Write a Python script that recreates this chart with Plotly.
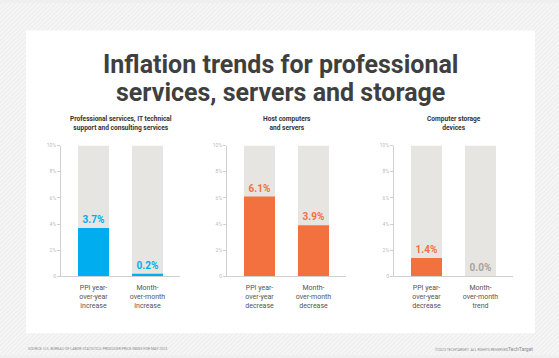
import plotly.graph_objects as go

# ---------------- data ----------------
panel_titles = [
    "Professional services, IT technical<br>support and consulting services",
    "Host computers<br>and servers",
    "Computer storage<br>devices",
]
panel_categories = [
    ["PPI year-<br>over-year<br>increase", "Month-<br>over-month<br>increase"],
    ["PPI year-<br>over-year<br>decrease", "Month-<br>over-month<br>decrease"],
    ["PPI year-<br>over-year<br>decrease", "Month-<br>over-month<br>trend"],
]
panel_values = [
    [3.7, 0.2],
    [6.1, 3.9],
    [1.4, 0.0],
]
scale_max = 10
y_tickvals = [0, 2, 4, 6, 8, 10]
y_ticktext = ["0", "2%", "4%", "6%", "8%", "10%"]
title_lines = ["Inflation trends for professional", "services, servers and storage"]
source_text = "SOURCE: U.S. BUREAU OF LABOR STATISTICS PRODUCER PRICE INDEX FOR MAY 2023"
copyright_text = "©2023 TECHTARGET. ALL RIGHTS RESERVED"

# ---------------- style ----------------
W, H = 559, 358
BLUE = "#00aeef"
ORANGE = "#f3703f"
TRACK = "#e7e5e2"
ZERO_LABEL = "#a8a39d"
bar_colors = [[BLUE, BLUE], [ORANGE, ORANGE], [ORANGE, ORANGE]]
label_colors = [[BLUE, BLUE], [ORANGE, ORANGE], [ORANGE, ZERO_LABEL]]
FONT = "Roboto"


def px(x):
    return x / W


def py(y):
    return 1 - y / H


# x-domains in pixels for each panel
domains_px = [(61.1, 179.9), (227.1, 345.9), (394.1, 512.9)]
y_dom = (py(278), py(145))

fig = go.Figure()
for i in range(3):
    xa = "x" if i == 0 else f"x{i+1}"
    ya = "y" if i == 0 else f"y{i+1}"
    xs = [0, 1]
    fig.add_trace(go.Bar(
        x=xs, y=[scale_max, scale_max], xaxis=xa, yaxis=ya,
        marker=dict(color=TRACK, line=dict(width=0)), width=0.574,
        hoverinfo="skip", showlegend=False,
    ))
    vals = panel_values[i]
    fig.add_trace(go.Bar(
        x=xs, y=vals, xaxis=xa, yaxis=ya,
        marker=dict(color=bar_colors[i], line=dict(width=0)), width=0.574,
        text=[f"{v:.1f}%" for v in vals], textposition="outside",
        textfont=dict(family=FONT, size=10, color=label_colors[i], weight="bold"),
        cliponaxis=False, showlegend=False,
    ))

layout = dict(
    width=W, height=H, margin=dict(l=0, r=0, t=0, b=0),
    paper_bgcolor="#efefef", plot_bgcolor="rgba(0,0,0,0)",
    barmode="overlay", font=dict(family=FONT),
)
for i in range(3):
    xk = "xaxis" if i == 0 else f"xaxis{i+1}"
    yk = "yaxis" if i == 0 else f"yaxis{i+1}"
    d0, d1 = domains_px[i]
    layout[xk] = dict(
        domain=[px(d0), px(d1)], range=[-0.6, 1.6],
        tickvals=[0, 1], ticktext=panel_categories[i],
        tickfont=dict(family=FONT, size=7, color="#555555"),
        ticklabelstandoff=4,
        showline=True, linecolor="#d0d0d0", linewidth=1,
        showgrid=False, zeroline=False, ticks="", fixedrange=True,
        anchor="y" if i == 0 else f"y{i+1}",
    )
    layout[yk] = dict(
        domain=list(y_dom), range=[0, scale_max],
        tickvals=y_tickvals, ticktext=y_ticktext,
        tickfont=dict(family=FONT, size=5, color="#bbbbbb"),
        showline=True, linecolor="#d0d0d0", linewidth=1,
        ticks="outside", ticklen=3, tickcolor="#d0d0d0",
        showgrid=False, zeroline=False, fixedrange=True,
        anchor="x" if i == 0 else f"x{i+1}",
    )
fig.update_layout(**layout)

# background hatch
segs = []
c = 0
while c < W + H:
    segs.append(f"M{px(c - H):.4f},{py(H):.4f} L{px(c):.4f},{py(0):.4f}")
    c += 4.5
shapes = [
    dict(type="path", path=" ".join(segs), xref="paper", yref="paper",
         line=dict(color="#f7f7f7", width=1.3), layer="below"),
    dict(type="rect", xref="paper", yref="paper", x0=px(26), x1=px(535),
         y0=py(336), y1=py(28), fillcolor="white", line=dict(width=0), layer="below"),
]
fig.update_layout(shapes=shapes)

ann = []
for k, (line, ypx) in enumerate(zip(title_lines, [63, 91])):
    ann.append(dict(text=f"<b>{line}</b>", x=px(280.5), y=py(ypx), xref="paper", yref="paper",
                    showarrow=False, xanchor="center", yanchor="middle",
                    font=dict(family=FONT, size=25, color="#3f3f3f")))
for i in range(3):
    d0, d1 = domains_px[i]
    ann.append(dict(text=f"<b>{panel_titles[i]}</b>", x=px((d0 + d1) / 2), y=py(122.5),
                    xref="paper", yref="paper", showarrow=False,
                    xanchor="center", yanchor="middle",
                    font=dict(family=FONT, size=6.6, color="#333333")))
ann.append(dict(text=source_text, x=px(26), y=py(352), xref="paper", yref="paper",
                showarrow=False, xanchor="left", yanchor="middle",
                font=dict(family=FONT, size=3.6, color="#8a8a8a")))
ann.append(dict(text=copyright_text, x=px(511), y=py(352), xref="paper", yref="paper",
                showarrow=False, xanchor="right", yanchor="middle",
                font=dict(family=FONT, size=3.6, color="#8a8a8a")))
ann.append(dict(text="TechTarget", x=px(535), y=py(352), xref="paper", yref="paper",
                showarrow=False, xanchor="right", yanchor="middle",
                font=dict(family=FONT, size=5, color="#8a8a8a")))
fig.update_layout(annotations=ann)

fig.write_html("out.html", config={"displayModeBar": False},
               post_script="document.body.style.margin='0';document.body.style.overflow='hidden';")
